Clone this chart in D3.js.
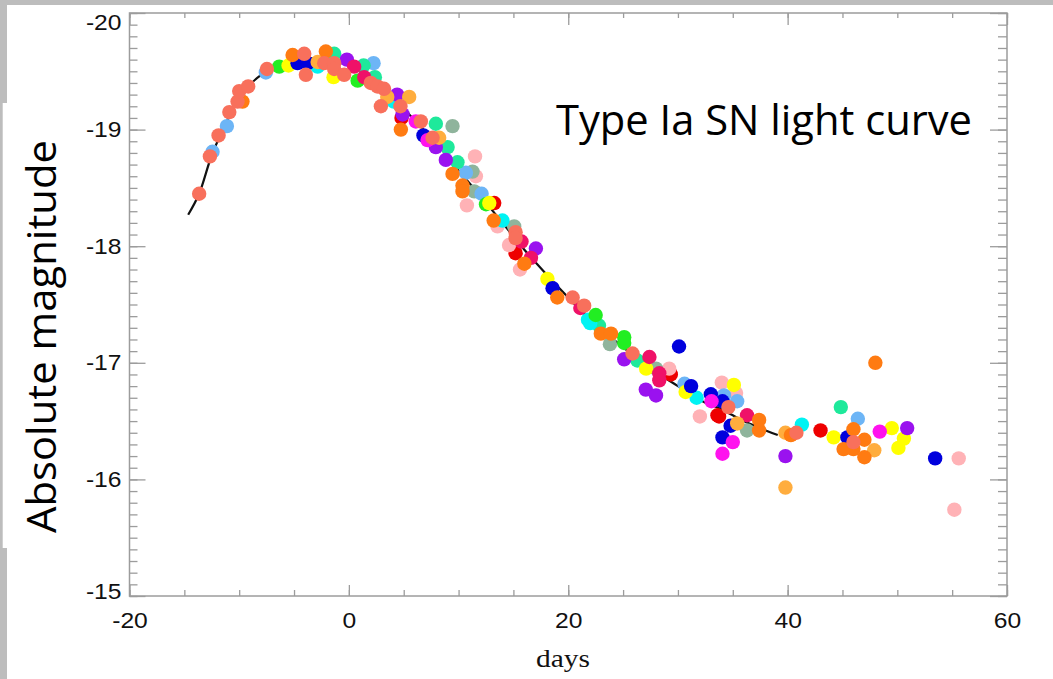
<!DOCTYPE html>
<html><head><meta charset="utf-8">
<script src="https://cdn.jsdelivr.net/npm/d3@7"></script>
<style>html,body{margin:0;padding:0;background:#fff;} svg{display:block}</style>
</head><body>
<svg id="c" width="1053" height="679"></svg>
<script>
// ---- data ----
const xTicks = [-20, 0, 20, 40, 60];
const yTicks = [-20, -19, -18, -17, -16, -15];
const titleText = "Type Ia SN light curve";
const xLabel = "days";
const yLabel = "Absolute magnitude";

// template light curve (black line)
const templateDays = [-14.65, -13.65, -12.5, -11, -10, -8, -6, -4, -2, 0, 2, 4, 6, 8, 10, 12, 14, 16, 18, 20, 22, 24, 26, 28, 30, 32, 34, 36, 38, 39.1];
const templateMags = [-18.27, -18.45, -18.78, -19.1, -19.28, -19.47, -19.57, -19.61, -19.6, -19.55, -19.45, -19.28, -19.08, -18.88, -18.65, -18.43, -18.2, -17.97, -17.76, -17.56, -17.37, -17.21, -17.06, -16.92, -16.8, -16.68, -16.6, -16.5, -16.42, -16.38];

// observed supernovae, one array of [day, magnitude] per object
const snSalmon = [[-13.65,-18.45],[-12.67,-18.77],[-11.88,-18.95],[-10.9,-19.15],[-10.15,-19.24],[-10.0,-19.33],[-9.18,-19.37],[-7.47,-19.52],[-4.07,-19.65],[-3.92,-19.47],[-2.25,-19.57],[-1.34,-19.57],[-1.34,-19.52],[-0.43,-19.47],[2.0,-19.40],[2.6,-19.37],[3.2,-19.35],[2.92,-19.2],[4.7,-19.2],[6.56,-19.07],[7.63,-18.93],[15.2,-18.12],[15.2,-18.07],[20.4,-17.56],[21.45,-17.49],[25.86,-17.08],[34.6,-16.62],[40.8,-16.40],[46.0,-16.32]];
const snLightBlue = [[-12.43,-18.81],[-11.12,-19.03],[-7.57,-19.49],[2.25,-19.57],[10.67,-18.63],[12.1,-18.45],[30.6,-16.82],[34.2,-16.72],[35.4,-16.67],[46.4,-16.52]];
const snOrange = [[-9.7,-19.24],[-5.13,-19.64],[-2.1,-19.67],[4.74,-19.0],[9.45,-18.62],[10.36,-18.52],[10.36,-18.47],[13.2,-18.22],[16.0,-17.85],[19.0,-17.56],[22.97,-17.25],[23.9,-17.25],[37.4,-16.51],[37.4,-16.42],[40.3,-16.38],[48.0,-17.0],[46.0,-16.43],[47.0,-16.34],[45.1,-16.26],[46.0,-16.26],[47.0,-16.19]];
const snLightOrange = [[-2.85,-19.58],[3.5,-19.28],[5.5,-19.28],[8.23,-18.93],[35.4,-16.48],[39.8,-16.40],[39.8,-15.93],[47.9,-16.25]];
const snGreen = [[-6.35,-19.54],[0.8,-19.42],[12.5,-18.36],[22.5,-17.41],[25.1,-17.22],[25.1,-17.17]];
const snBlue = [[-4.68,-19.57],[-3.77,-19.57],[6.8,-18.95],[18.57,-17.64],[30.1,-17.14],[31.2,-16.80],[33.0,-16.73],[34.06,-16.67],[34.8,-16.46],[34.06,-16.36],[45.45,-16.36],[53.45,-16.18]];
const snYellow = [[-5.5,-19.55],[-1.4,-19.45],[12.8,-18.37],[18.1,-17.72],[27.1,-16.95],[30.7,-16.75],[35.1,-16.81],[44.2,-16.36],[49.5,-16.44],[50.6,-16.35],[50.1,-16.27]];
const snCyan = [[-2.85,-19.54],[4.1,-19.24],[14.0,-18.22],[21.8,-17.37],[22.0,-17.34],[31.7,-16.70],[41.3,-16.47]];
const snAqua = [[-1.34,-19.65],[1.34,-19.55],[2.37,-19.45],[7.93,-19.05],[9.0,-18.85],[9.9,-18.72],[22.8,-17.32],[26.3,-17.02],[44.85,-16.62]];
const snPurple = [[-0.18,-19.60],[4.4,-19.30],[4.9,-19.13],[7.93,-18.85],[8.84,-18.74],[17.05,-17.98],[25.1,-17.03],[27.07,-16.77],[28.0,-16.72],[39.8,-16.20],[50.9,-16.44]];
const snMagenta = [[6.1,-19.07],[7.17,-18.91],[33.06,-16.67],[35.0,-16.32],[34.06,-16.22],[48.4,-16.41]];
const snDeepPink = [[0.48,-19.54],[1.4,-19.45],[15.74,-18.04],[16.6,-17.90],[21.1,-17.47],[27.4,-17.05],[28.3,-16.91],[28.3,-16.85],[36.3,-16.55]];
const snRed = [[4.8,-19.1],[13.25,-18.37],[15.2,-17.94],[29.35,-16.90],[33.6,-16.55],[33.75,-16.54],[43.0,-16.42]];
const snPink = [[11.5,-18.77],[11.58,-18.60],[10.76,-18.35],[13.55,-18.17],[14.6,-18.01],[15.6,-17.80],[29.2,-16.95],[32.0,-16.54],[34.0,-16.83],[35.3,-16.74],[55.6,-16.18],[55.2,-15.74]];
const snGrayGreen = [[9.45,-19.03],[11.27,-18.64],[11.43,-18.47],[15.07,-18.17],[23.8,-17.16],[28.0,-16.95],[36.3,-16.42]];

const seriesList = [snRed, snPink, snGrayGreen, snLightBlue, snAqua, snCyan, snGreen, snYellow, snBlue, snPurple, snMagenta, snDeepPink, snLightOrange, snOrange, snSalmon];
const seriesColors = ["#ee0000", "#ffb2b6", "#8fb49c", "#6db5f6", "#1ee99b", "#00f3f3", "#22ee22", "#ffff00", "#0000dd", "#9a12ef", "#ff12ee", "#ef1168", "#ffad3e", "#ff7b12", "#f8705c"];

// ---- drawing ----
const svg = d3.select("#c");
const W = 1053, H = 679;
const x = d3.scaleLinear().domain([-20, 60]).range([129.5, 1007]);
const y = d3.scaleLinear().domain([-20, -15]).range([13, 596]);
const axisGray = "#9c9c9c";
const bgGray = "#bdbdbd";
const fmt = d => String(d);

svg.append("rect").attr("width", W).attr("height", H).attr("fill", "#fff");
// gray slide borders
svg.append("rect").attr("x", 0).attr("y", 0).attr("width", W).attr("height", 5).attr("fill", bgGray);
svg.append("rect").attr("x", 0).attr("y", 0).attr("width", 7).attr("height", 103).attr("fill", bgGray);
svg.append("rect").attr("x", 0).attr("y", 103).attr("width", 2.7).attr("height", 445).attr("fill", bgGray);
svg.append("rect").attr("x", 0).attr("y", 548).attr("width", 7).attr("height", 131).attr("fill", bgGray);

// frame
svg.append("rect").attr("x", x(-20)).attr("y", y(-20))
  .attr("width", x(60) - x(-20)).attr("height", y(-15) - y(-20))
  .attr("fill", "none").attr("stroke", axisGray).attr("stroke-width", 1.5);

const xMinor = d3.range(0, 17).map(i => -20 + i * 5);
const yMinor = d3.range(0, 51).map(i => +(-20 + i * 0.1).toFixed(2));

function styleAxis(g) {
  g.select(".domain").remove();
  g.selectAll(".tick line").attr("stroke", axisGray).attr("stroke-width", 1.3);
  g.selectAll(".tick text").attr("fill", "#111").attr("font-family", "Liberation Sans, Arial, sans-serif").attr("font-size", 22);
}
// left
svg.append("g").attr("transform", `translate(${x(-20)},0)`)
  .call(d3.axisLeft(y).tickValues(yMinor).tickSize(-8).tickFormat("")).call(styleAxis);
const gl = svg.append("g").attr("transform", `translate(${x(-20)},0)`)
  .call(d3.axisLeft(y).tickValues(yTicks).tickSize(-16).tickPadding(8).tickFormat(fmt)).call(styleAxis);
gl.selectAll(".tick text").attr("transform", d => d === -20 ? "translate(0,9.5)" : d === -15 ? "translate(0,-5)" : null);
// right
svg.append("g").attr("transform", `translate(${x(60)},0)`)
  .call(d3.axisRight(y).tickValues(yMinor).tickSize(-9).tickFormat("")).call(styleAxis);
svg.append("g").attr("transform", `translate(${x(60)},0)`)
  .call(d3.axisRight(y).tickValues(yTicks).tickSize(-17).tickFormat("")).call(styleAxis);
// bottom
svg.append("g").attr("transform", `translate(0,${y(-15)})`)
  .call(d3.axisBottom(x).tickValues(xMinor).tickSize(-6).tickFormat("")).call(styleAxis);
const gb = svg.append("g").attr("transform", `translate(0,${y(-15)})`)
  .call(d3.axisBottom(x).tickValues(xTicks).tickSize(-11).tickPadding(16).tickFormat(fmt)).call(styleAxis);
// top
svg.append("g").attr("transform", `translate(0,${y(-20)})`)
  .call(d3.axisTop(x).tickValues(xMinor).tickSize(-5).tickFormat("")).call(styleAxis);
svg.append("g").attr("transform", `translate(0,${y(-20)})`)
  .call(d3.axisTop(x).tickValues(xTicks).tickSize(-12).tickFormat("")).call(styleAxis);

// stretch tick labels horizontally like the reference
svg.selectAll(".tick text").each(function () {
  const len = this.getComputedTextLength();
  if (len > 0) d3.select(this).attr("textLength", len * 1.12).attr("lengthAdjust", "spacingAndGlyphs");
});

// template line
const tmpl = templateDays.map((d, i) => [d, templateMags[i]]);
svg.append("path").datum(tmpl)
  .attr("d", d3.line().x(d => x(d[0])).y(d => y(d[1])).curve(d3.curveCatmullRom))
  .attr("fill", "none").attr("stroke", "#111").attr("stroke-width", 2.2);

// points
seriesList.forEach((s, i) => {
  svg.append("g").selectAll("circle").data(s).join("circle")
    .attr("cx", d => x(d[0])).attr("cy", d => y(d[1])).attr("r", 7.2)
    .attr("fill", seriesColors[i]);
});

// x label
svg.append("text").attr("x", 563).attr("y", 667).attr("text-anchor", "middle")
  .attr("font-family", "Liberation Serif, Times New Roman, serif").attr("font-size", 25)
  .attr("fill", "#111").attr("textLength", 54).attr("lengthAdjust", "spacingAndGlyphs").text(xLabel);

// y label
svg.append("text").attr("transform", "translate(56,336.5) rotate(-90)").attr("text-anchor", "middle")
  .attr("font-family", "Open Sans, sans-serif").attr("font-size", 41)
  .attr("fill", "#000").attr("textLength", 393).attr("lengthAdjust", "spacingAndGlyphs").text(yLabel);

// title
svg.append("text").attr("x", 556).attr("y", 135)
  .attr("font-family", "Open Sans, sans-serif").attr("font-size", 42)
  .attr("fill", "#000").attr("textLength", 416).attr("lengthAdjust", "spacingAndGlyphs").text(titleText);
</script>
</body></html>
